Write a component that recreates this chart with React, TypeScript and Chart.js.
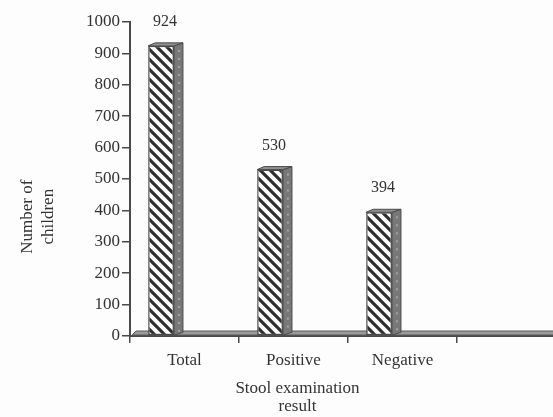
import React, { useEffect, useRef } from "react";
import { Chart, registerables } from "chart.js";

Chart.register(...registerables);

const categories = ["Total", "Positive", "Negative", ""];
const childrenCounts: (number | null)[] = [924, 530, 394, null];
const emptySeries: (number | null)[] = [null, null, null, null];
const yTickValues = [0, 100, 200, 300, 400, 500, 600, 700, 800, 900, 1000];
const yTitleLines = ["Number of", "children"];
const xTitleLines = ["Stool examination", "result"];

const FONT = "'Liberation Serif', 'DejaVu Serif', serif";
const TEXT = "#333333";
const AXIS = "#4a4a4a";
const FS = 17;

function makeHatch(): CanvasPattern | string {
  const c = document.createElement("canvas");
  c.width = 10;
  c.height = 10;
  const g = c.getContext("2d");
  if (!g) return "#888";
  g.fillStyle = "#fbfbfb";
  g.fillRect(0, 0, 10, 10);
  g.strokeStyle = "#2e2e2e";
  g.lineWidth = 3.1;
  g.beginPath();
  g.moveTo(-2, -2);
  g.lineTo(12, 12);
  g.moveTo(-12, -2);
  g.lineTo(2, 12);
  g.moveTo(8, -2);
  g.lineTo(22, 12);
  g.stroke();
  const p = g.createPattern(c, "repeat");
  return p || "#888";
}

const decorPlugin = {
  id: "decor",
  beforeDatasetsDraw(chart: any) {
    const { ctx, chartArea } = chart;
    ctx.save();
    ctx.fillStyle = "#9a9a9a";
    ctx.strokeStyle = "#5a5a5a";
    ctx.lineWidth = 1;
    ctx.beginPath();
    ctx.moveTo(chartArea.left + 2, chartArea.bottom - 1);
    ctx.lineTo(chartArea.left + 6, chartArea.bottom - 5);
    ctx.lineTo(chartArea.right + 10, chartArea.bottom - 5);
    ctx.lineTo(chartArea.right + 10, chartArea.bottom - 1);
    ctx.closePath();
    ctx.fill();
    ctx.stroke();
    ctx.restore();
  },
  afterDatasetsDraw(chart: any) {
    const { ctx } = chart;
    const meta = chart.getDatasetMeta(0);
    const data = chart.data.datasets[0].data;
    ctx.save();
    meta.data.forEach((bar: any, i: number) => {
      const v = data[i];
      if (v == null) return;
      const { x, y, base, width } = bar.getProps(["x", "y", "base", "width"], true);
      const left = x - width / 2;
      const right = x + width / 2;
      const dx = 9;
      const dy = 3;
      ctx.fillStyle = "#787878";
      ctx.strokeStyle = "#4a4a4a";
      ctx.lineWidth = 1;
      ctx.beginPath();
      ctx.moveTo(right, y);
      ctx.lineTo(right + dx, y - dy);
      ctx.lineTo(right + dx, base - dy);
      ctx.lineTo(right, base);
      ctx.closePath();
      ctx.fill();
      ctx.stroke();
      ctx.fillStyle = "#a4a4a4";
      for (let yy = y + 4; yy < base - 4; yy += 8) {
        ctx.fillRect(right + 4, yy, 2, 2);
      }
      ctx.fillStyle = "#909090";
      ctx.beginPath();
      ctx.moveTo(left, y);
      ctx.lineTo(left + dx - 2, y - dy);
      ctx.lineTo(right + dx, y - dy);
      ctx.lineTo(right, y);
      ctx.closePath();
      ctx.fill();
      ctx.stroke();
      ctx.fillStyle = TEXT;
      ctx.font = `${FS - 1}px ${FONT}`;
      ctx.textAlign = "center";
      ctx.textBaseline = "middle";
      ctx.fillText(String(v), x + 4, y - 24);
    });
    ctx.restore();
  },
  afterDraw(chart: any) {
    const { ctx, chartArea } = chart;
    ctx.save();
    ctx.fillStyle = TEXT;
    ctx.font = `${FS}px ${FONT}`;
    ctx.textAlign = "center";
    ctx.textBaseline = "middle";
    const cy = chartArea.top + (chartArea.bottom - chartArea.top) * 0.62;
    yTitleLines.forEach((line, i) => {
      ctx.save();
      ctx.translate(28 + i * 21, cy);
      ctx.rotate(-Math.PI / 2);
      ctx.fillText(line, 0, 0);
      ctx.restore();
    });
    const xs = chart.scales.x;
    const cx = xs.getPixelForValue(1);
    xTitleLines.forEach((line, i) => {
      ctx.fillText(line, cx + 4, chartArea.bottom + 53 + i * 18);
    });
    ctx.restore();
  },
};

export default function App() {
  const ref = useRef<HTMLCanvasElement | null>(null);

  useEffect(() => {
    if (!ref.current) return;
    const hatch = makeHatch();
    const chart = new Chart(ref.current, {
      type: "bar",
      data: {
        labels: categories,
        datasets: [
          {
            label: "Number of children",
            data: childrenCounts,
            backgroundColor: hatch as any,
            borderColor: "#4a4a4a",
            borderWidth: 1.5,
            borderSkipped: false,
            categoryPercentage: 0.86,
            barPercentage: 0.55,
          },
          {
            label: "",
            data: emptySeries,
            backgroundColor: "transparent",
            categoryPercentage: 0.86,
            barPercentage: 0.55,
          },
        ],
      },
      options: {
        responsive: false,
        animation: false,
        layout: { padding: { top: 22, left: 0, right: 0, bottom: 0 } },
        plugins: {
          legend: { display: false },
          tooltip: { enabled: false },
          title: { display: false },
        },
        scales: {
          x: {
            offset: true,
            grid: {
              offset: true,
              drawOnChartArea: false,
              drawTicks: true,
              tickLength: 7,
              color: AXIS,
              lineWidth: 1.5,
            },
            border: { display: true, color: AXIS, width: 2 },
            ticks: {
              color: TEXT,
              font: { family: FONT, size: FS },
              padding: 7,
              maxRotation: 0,
            },
            afterFit(scale: any) {
              scale.height = 81;
            },
          },
          y: {
            min: 0,
            max: 1000,
            afterBuildTicks(scale: any) {
              scale.ticks = yTickValues.map((v) => ({ value: v }));
            },
            grid: {
              drawOnChartArea: false,
              drawTicks: true,
              tickLength: 8,
              color: AXIS,
              lineWidth: 1.5,
            },
            border: { display: true, color: AXIS, width: 2 },
            ticks: {
              color: TEXT,
              font: { family: FONT, size: FS },
              padding: 2,
              callback: (v: any) => String(v),
            },
            afterFit(scale: any) {
              scale.width = 130;
            },
          },
        },
      },
      plugins: [decorPlugin],
    });
    return () => chart.destroy();
  }, []);

  return (
    <div
      style={{
        position: "absolute",
        left: 0,
        top: 0,
        width: 553,
        height: 417,
        overflow: "hidden",
        background: "#fdfdfd",
      }}
    >
      <canvas ref={ref} width={566} height={417} style={{ display: "block" }} />
    </div>
  );
}
